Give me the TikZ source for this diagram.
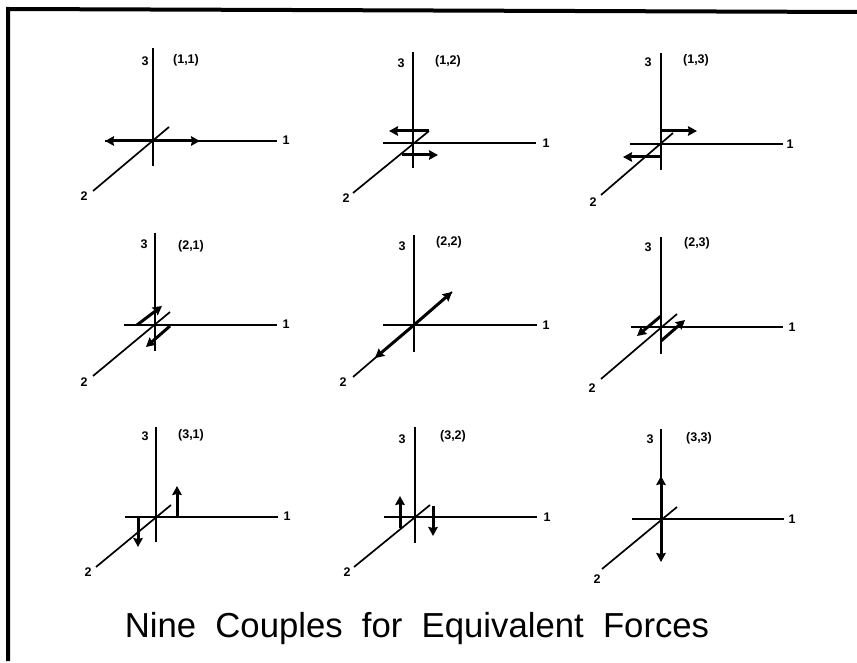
\documentclass[tikz,border=0pt]{standalone}
\usepackage{fontspec}
\setmainfont{Liberation Sans}
\usetikzlibrary{arrows.meta}
\tikzset{
  x=1pt,y=-1pt,
  axisline/.style={line width=1.7pt,black},
  force/.style={line width=3pt,black,-{Stealth[length=9pt,width=9.5pt,inset=1pt]}},
  lab/.style={font=\fontsize{12.5}{13}\selectfont\bfseries,inner sep=0pt},
  ttl/.style={font=\fontsize{34.7}{38}\selectfont,inner sep=0pt,anchor=base},
  frame/.style={line width=4pt,black}
}
% id, origin x, origin y, top y, bottom y, left x, right x, far end of axis 2, near end of axis 2
\newcommand{\axes}[9]{%
  \coordinate (o#1) at (#2,#3);
  \coordinate (t#1) at (#2,#4);
  \coordinate (b#1) at (#2,#5);
  \coordinate (l#1) at (#6,#3);
  \coordinate (r#1) at (#7,#3);
  \coordinate (f#1) at (#8);
  \coordinate (n#1) at (#9);
  \draw[axisline] (t#1) -- (b#1);
  \draw[axisline] (l#1) -- (r#1);
  \draw[axisline] (f#1) -- (n#1);
}
% id, pos of 3, pair text, pos of pair, pos of 1, pos of 2
\newcommand{\labs}[6]{%
  \node[lab] (c#1) at (#2) {3};
  \node[lab] (p#1) at (#4) {#3};
  \node[lab] (a#1) at (#5) {1};
  \node[lab] (d#1) at (#6) {2};
}
% id, start, end
\newcommand{\frc}[3]{%
  \coordinate (s#1) at (#2);
  \coordinate (e#1) at (#3);
  \draw[force] (s#1) -- (e#1);
}
\begin{document}
\begin{tikzpicture}
\useasboundingbox (0,0) rectangle (857,663);
\fill[white] (0,0) rectangle (857,663);
\coordinate (fa) at (8,661);
\coordinate (fb) at (8,9);
\coordinate (fc) at (857,12);
\draw[frame,line join=miter] (fa) -- (fb) -- (fc);

% (1,1)
\axes{A}{153}{141}{48}{166}{105}{277}{93,191}{169,127}
\labs{A}{145,61}{(1,1)}{186,60}{286,140}{84,196}
\frc{Aa}{153,141}{105,141}
\frc{Ab}{153,141}{200,141}

% (1,2)
\axes{B}{413}{143}{52}{168}{383}{536}{353,193}{429,131}
\labs{B}{401,63}{(1,2)}{448,61}{546,143}{346,198}
\frc{Ba}{429,131}{389,131}
\frc{Bb}{402,155}{438,155}

% (1,3)
\axes{C}{661}{144}{53}{170}{630}{783}{601,195}{673,133}
\labs{C}{648,62}{(1,3)}{696,60}{790,144}{593,202}
\frc{Ca}{661,131}{697,131}
\frc{Cb}{661,157}{623,157}

% (2,1)
\axes{D}{155}{325}{233}{351}{124}{277}{93,376}{170,312}
\labs{D}{144,244}{(2,1)}{191,246}{286,324}{84,382}
\frc{Da}{137,325}{162,306}
\frc{Db}{170,326}{146,347}

% (2,2)
\axes{E}{414}{325}{235}{352}{383}{537}{353,377}{452,292}
\labs{E}{402,246}{(2,2)}{449,242}{546,325}{343,382}
\frc{Ea}{414,325}{452,292}
\frc{Eb}{414,325}{375,358}

% (2,3)
\axes{F}{661}{327}{237}{354}{631}{783}{601,379}{677,314}
\labs{F}{648,247}{(2,3)}{697,243}{792,327}{592,388}
\frc{Fa}{661,316}{637,336}
\frc{Fb}{661,341}{685,320}

% (3,1)
\axes{G}{156}{517}{427}{542}{125}{278}{96,567}{171,505}
\labs{G}{145,436}{(3,1)}{191,435}{287,516}{88,572}
\frc{Ga}{177,517}{177,486}
\frc{Gb}{138,517}{138,547}

% (3,2)
\axes{H}{415}{517}{427}{543}{384}{537}{354,567}{430,505}
\labs{H}{402,439}{(3,2)}{453,436}{547,517}{347,572}
\frc{Ha}{400,528}{400,496}
\frc{Hb}{433,506}{433,536}

% (3,3)
\axes{I}{661}{519}{429}{552}{632}{784}{602,569}{677,507}
\labs{I}{650,439}{(3,3)}{699,438}{792,519}{597,579}
\frc{Ia}{661,519}{661,476}
\frc{Ib}{661,519}{661,562}

\node[ttl] (title) at (417,637) {Nine\ \ Couples\ \ for\ \ Equivalent\ \ Forces};
\end{tikzpicture}
\end{document}
